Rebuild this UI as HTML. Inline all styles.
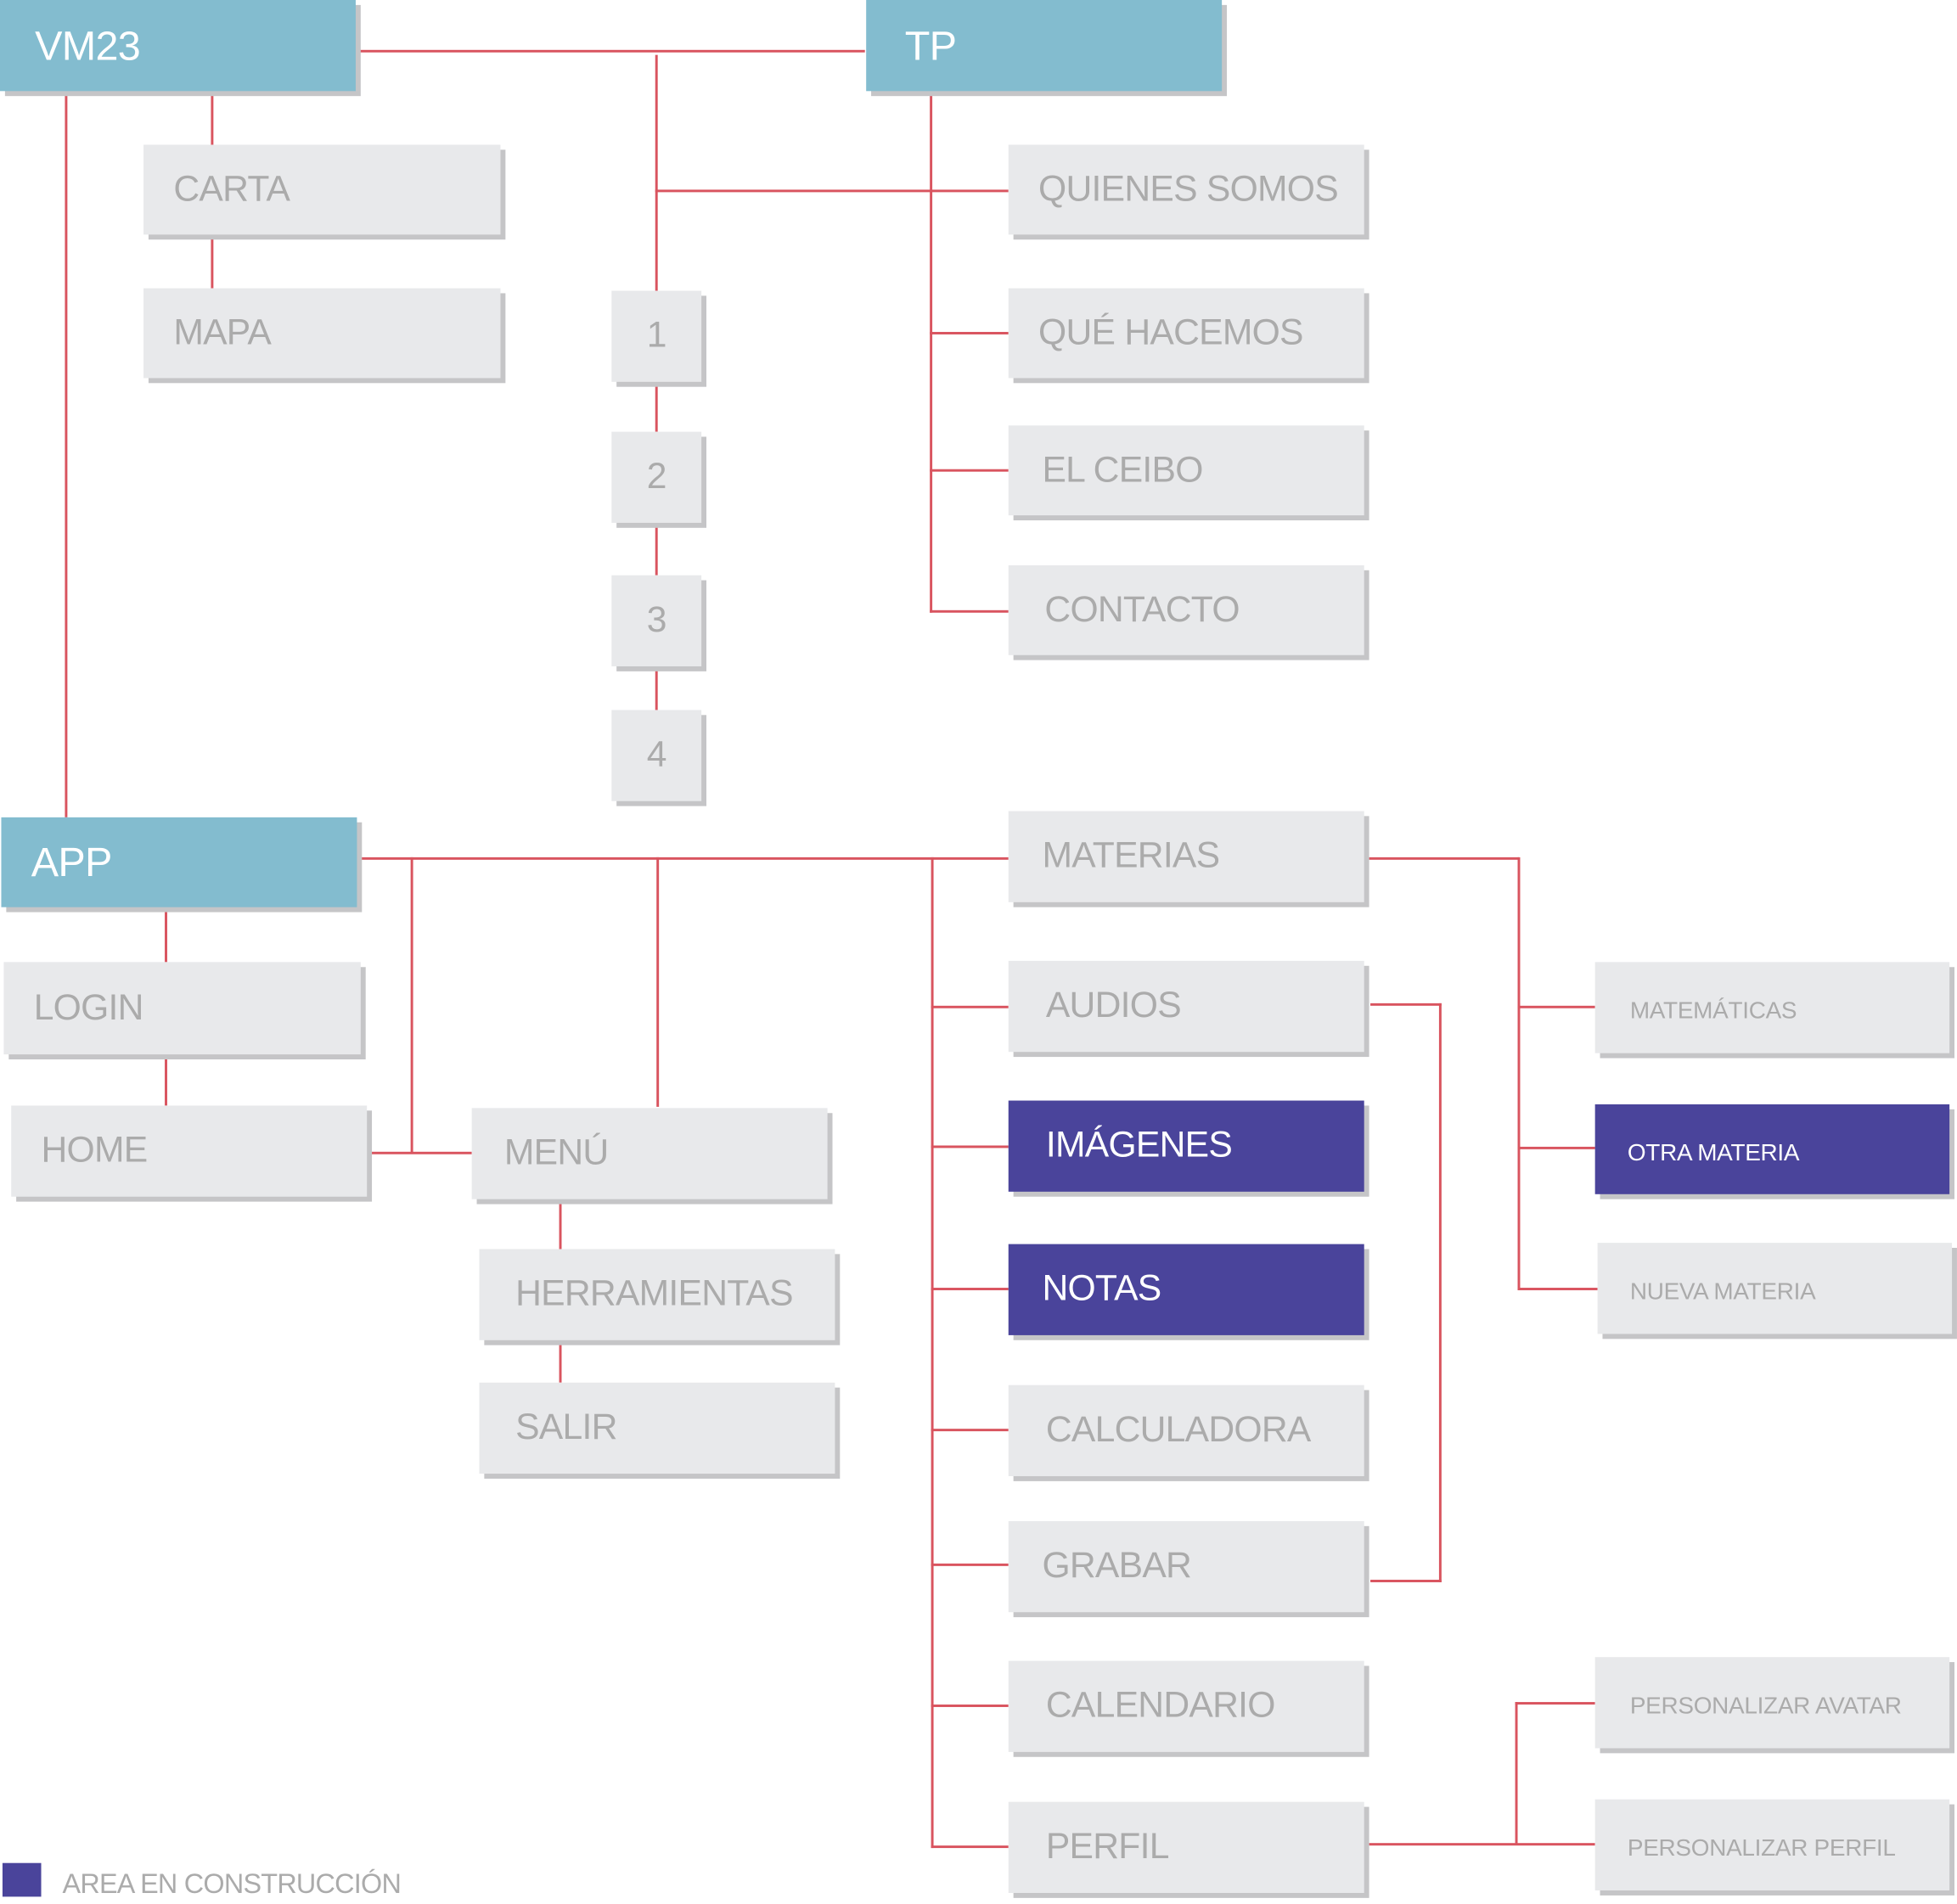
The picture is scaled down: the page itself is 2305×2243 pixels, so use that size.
<!DOCTYPE html>
<html><head><meta charset="utf-8"><style>
html,body{margin:0;padding:0;background:#fff;}
#wrap{width:2305px;height:2243px;overflow:hidden;position:relative;}
#c{position:absolute;left:0;top:0;width:1568px;height:1526px;transform:scale(1.4700);transform-origin:0 0;font-family:"Liberation Sans",sans-serif;}
.b{position:absolute;background:#e8e9eb;color:#ababab;box-shadow:4px 4px 0 #c5c5c7;font-size:29px;display:flex;align-items:center;padding-left:24px;box-sizing:border-box;white-space:nowrap;letter-spacing:-0.5px;}
.t{background:#83bccf;color:#fff;font-size:33px;}
.p{background:#4a449b;color:#fff;}
.s{font-size:19px;padding-left:28px;letter-spacing:-0.2px;}
.h{position:absolute;height:1.5px;background:#d9545f;}
.v{position:absolute;width:1.5px;background:#d9545f;}
</style></head><body><div id="wrap"><div id="c">
<div class="h" style="left:287px;top:40px;width:406px"></div>
<div class="v" style="left:525px;top:44px;height:190px"></div>
<div class="h" style="left:525px;top:152px;width:283px"></div>
<div class="v" style="left:745px;top:73px;height:418px"></div>
<div class="h" style="left:745px;top:266px;width:63px"></div>
<div class="h" style="left:745px;top:376px;width:63px"></div>
<div class="h" style="left:745px;top:489px;width:63px"></div>
<div class="v" style="left:169px;top:73px;height:43px"></div>
<div class="v" style="left:169px;top:188px;height:43px"></div>
<div class="v" style="left:525px;top:306px;height:40px"></div>
<div class="v" style="left:525px;top:419px;height:42px"></div>
<div class="v" style="left:525px;top:534px;height:35px"></div>
<div class="v" style="left:52px;top:75px;height:580px"></div>
<div class="h" style="left:288px;top:687px;width:520px"></div>
<div class="v" style="left:329px;top:687px;height:237px"></div>
<div class="h" style="left:296px;top:923px;width:82px"></div>
<div class="v" style="left:526px;top:687px;height:200px"></div>
<div class="v" style="left:746px;top:687px;height:794px"></div>
<div class="h" style="left:746px;top:806px;width:62px"></div>
<div class="h" style="left:746px;top:918px;width:62px"></div>
<div class="h" style="left:746px;top:1032px;width:62px"></div>
<div class="h" style="left:746px;top:1145px;width:62px"></div>
<div class="h" style="left:746px;top:1253px;width:62px"></div>
<div class="h" style="left:746px;top:1366px;width:62px"></div>
<div class="h" style="left:746px;top:1479px;width:62px"></div>
<div class="v" style="left:132px;top:730px;height:41px"></div>
<div class="v" style="left:132px;top:847px;height:39px"></div>
<div class="v" style="left:448px;top:961px;height:40px"></div>
<div class="v" style="left:448px;top:1074px;height:34px"></div>
<div class="h" style="left:1097px;top:687px;width:120px"></div>
<div class="v" style="left:1216px;top:687px;height:347px"></div>
<div class="h" style="left:1216px;top:806px;width:62px"></div>
<div class="h" style="left:1216px;top:919px;width:62px"></div>
<div class="h" style="left:1216px;top:1032px;width:64px"></div>
<div class="h" style="left:1098px;top:804px;width:57px"></div>
<div class="v" style="left:1153px;top:804px;height:464px"></div>
<div class="h" style="left:1098px;top:1266px;width:57px"></div>
<div class="h" style="left:1097px;top:1477px;width:181px"></div>
<div class="v" style="left:1214px;top:1364px;height:114px"></div>
<div class="h" style="left:1214px;top:1364px;width:64px"></div>
<div class="b t" style="left:0;top:0;width:285px;height:73px;padding-left:28px">VM23</div>
<div class="b t" style="left:694px;top:0;width:285px;height:73px;padding-left:31px">TP</div>
<div class="b" style="left:115px;top:116px;width:286px;height:72px">CARTA</div>
<div class="b" style="left:115px;top:231px;width:286px;height:72px">MAPA</div>
<div class="b" style="left:490px;top:233px;width:72px;height:73px;justify-content:center;padding:0">1</div>
<div class="b" style="left:490px;top:346px;width:72px;height:73px;justify-content:center;padding:0">2</div>
<div class="b" style="left:490px;top:461px;width:72px;height:73px;justify-content:center;padding:0">3</div>
<div class="b" style="left:490px;top:569px;width:72px;height:73px;justify-content:center;padding:0">4</div>
<div class="b" style="left:808px;top:116px;width:285px;height:72px">QUIENES SOMOS</div>
<div class="b" style="left:808px;top:231px;width:285px;height:72px">QUÉ HACEMOS</div>
<div class="b" style="left:808px;top:341px;width:285px;height:72px;padding-left:27px">EL CEIBO</div>
<div class="b" style="left:808px;top:453px;width:285px;height:72px;padding-left:29px">CONTACTO</div>
<div class="b t" style="left:1px;top:655px;width:285px;height:72px">APP</div>
<div class="b" style="left:3px;top:771px;width:286px;height:74px">LOGIN</div>
<div class="b" style="left:9px;top:886px;width:285px;height:73px">HOME</div>
<div class="b" style="left:378px;top:888px;width:285px;height:73px;padding-left:26px">MENÚ</div>
<div class="b" style="left:384px;top:1001px;width:285px;height:73px;padding-left:29px">HERRAMIENTAS</div>
<div class="b" style="left:384px;top:1108px;width:285px;height:73px;padding-left:29px">SALIR</div>
<div class="b" style="left:808px;top:650px;width:285px;height:73px;padding-left:27px">MATERIAS</div>
<div class="b" style="left:808px;top:770px;width:285px;height:73px;padding-left:30px">AUDIOS</div>
<div class="b p" style="left:808px;top:882px;width:285px;height:73px;padding-left:30px">IMÁGENES</div>
<div class="b p" style="left:808px;top:997px;width:285px;height:73px;padding-left:27px">NOTAS</div>
<div class="b" style="left:808px;top:1110px;width:285px;height:73px;padding-left:30px">CALCULADORA</div>
<div class="b" style="left:808px;top:1219px;width:285px;height:73px;padding-left:27px">GRABAR</div>
<div class="b" style="left:808px;top:1331px;width:285px;height:73px;padding-left:30px">CALENDARIO</div>
<div class="b" style="left:808px;top:1444px;width:285px;height:73px;padding-left:30px">PERFIL</div>
<div class="b s" style="left:1278px;top:771px;width:284px;height:73px;padding-top:6px">MATEMÁTICAS</div>
<div class="b s p" style="left:1278px;top:885px;width:284px;height:72px;padding-top:8px;padding-left:26px">OTRA MATERIA</div>
<div class="b s" style="left:1280px;top:996px;width:284px;height:73px;padding-top:6px;padding-left:26px">NUEVA MATERIA</div>
<div class="b s" style="left:1278px;top:1328px;width:284px;height:73px;padding-top:6px">PERSONALIZAR AVATAR</div>
<div class="b s" style="left:1278px;top:1442px;width:284px;height:73px;padding-top:6px;padding-left:26px">PERSONALIZAR PERFIL</div>
<div style="position:absolute;left:2px;top:1493px;width:31px;height:27px;background:#4a449b"></div>
<div style="position:absolute;left:50px;top:1497px;font-size:22px;color:#ababab;white-space:nowrap;letter-spacing:-0.5px;">AREA EN CONSTRUCCIÓN</div>
</div></div></body></html>
